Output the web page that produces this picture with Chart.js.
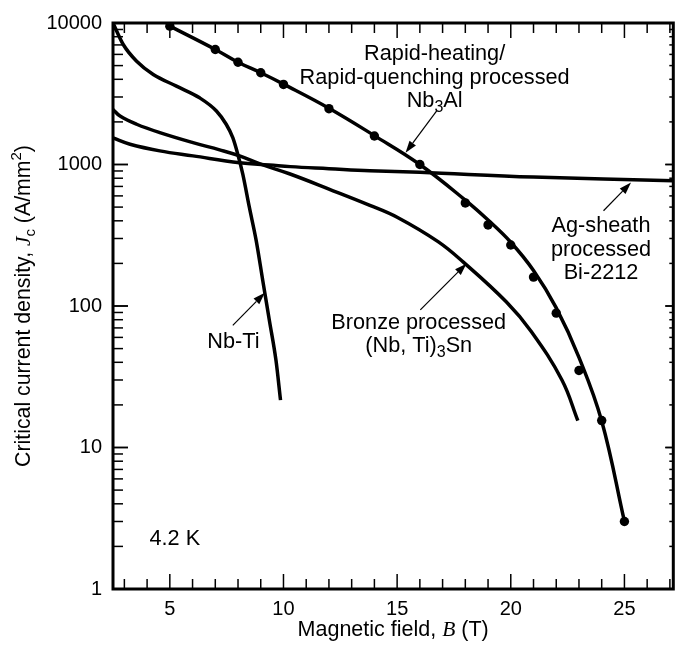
<!DOCTYPE html>
<html>
<head>
<meta charset="utf-8">
<script src="https://cdn.jsdelivr.net/npm/chart.js@4.4.1/dist/chart.umd.min.js"></script>
<style>
  html, body { margin: 0; padding: 0; background: #fff; overflow: hidden; }
</style>
</head>
<body>
<canvas id="jc" width="678" height="646"></canvas>
<script>
// values (B in tesla, Jc in A/mm2)
const xTicks = [5, 10, 15, 20, 25];
const yTicks = [1, 10, 100, 1000, 10000];

// measured points (dots) and the drawn fit through them
const nbalB  = [5, 7, 8, 9, 10, 12, 14, 16, 18, 19, 20, 21, 22, 23, 24, 25];
const nbalJc = [9500, 6500, 5280, 4450, 3680, 2480, 1590, 1000, 535, 374, 270, 160, 89, 35, 15.5, 3.0];
const nbalFitB  = [5, 7, 8, 9, 10, 12, 14, 16, 18, 19, 20, 21, 22, 23, 24, 25];
const nbalFitJc = [9500, 6500, 5280, 4450, 3700, 2500, 1600, 1000, 560, 405, 282, 178, 97, 43.4, 15.4, 3.0];

const nbtiB  = [2.5, 2.95, 3.54, 4.27, 5.29, 6.31, 7.05, 7.48, 7.77, 7.99, 8.21, 8.5, 8.8, 9.09, 9.38, 9.67, 9.87];
const nbtiJc = [10000, 7050, 5370, 4330, 3580, 2960, 2390, 1925, 1548, 1183, 855, 497, 290, 151, 79, 41.3, 21.6];

const bronzeB  = [2.5, 2.81, 3.54, 4.56, 6.02, 7.19, 8.07, 8.94, 10.26, 12.0, 13.8, 15.0, 16.8, 17.9, 19.8, 20.9, 22.25, 22.95];
const bronzeJc = [2450, 2200, 1925, 1680, 1427, 1270, 1151, 1014, 860, 671, 515, 424, 285, 205, 107, 66, 30, 15.5];

const biB  = [2.5, 3.25, 4.56, 6.02, 8.07, 9.38, 10.3, 12.0, 13.8, 16.0, 21.0, 27.15];
const biJc = [1540, 1390, 1248, 1151, 1030, 994, 966, 935, 904, 880, 815, 768];

const pts = (xs, ys) => xs.map((v, i) => ({x: v, y: ys[i]}));

const SANS = '"Liberation Sans", Arial, sans-serif';
const SERIF = '"Liberation Serif", "Times New Roman", serif';

// labels and arrows placed in data coordinates
const notes = [
  {x: 16.65, y: 6000, lines: [[{t: 'Rapid-heating/'}], [{t: 'Rapid-quenching processed'}], [{t: 'Nb'}, {t: '3', sub: true}, {t: 'Al'}]]},
  {x: 23.97, y: 365, lines: [[{t: 'Ag-sheath'}], [{t: 'processed'}], [{t: 'Bi-2212'}]]},
  {x: 15.95, y: 76, lines: [[{t: 'Bronze processed'}], [{t: '(Nb, Ti)'}, {t: '3', sub: true}, {t: 'Sn'}]]},
  {x: 7.8, y: 56, lines: [[{t: 'Nb-Ti'}]]},
  {x: 5.22, y: 2.25, lines: [[{t: '4.2 K'}]]}
];
const arrows = [
  {from: [16.74, 2390], to: [15.37, 1213]},
  {from: [24.08, 471], to: [25.29, 745]},
  {from: [16.02, 94], to: [18.05, 199]},
  {from: [7.77, 73], to: [9.18, 124]}
];

function segFont(s, size) {
  if (s.it) return 'italic ' + size + 'px ' + SERIF;
  if (s.sub || s.sup) return Math.round(size * 0.72) + 'px ' + SANS;
  return size + 'px ' + SANS;
}
function richWidth(ctx, segs, size) {
  let w = 0;
  segs.forEach(s => { ctx.font = segFont(s, size); w += ctx.measureText(s.t).width; });
  return w;
}
function drawRich(ctx, segs, cx, cy, size) {
  let px = cx - richWidth(ctx, segs, size) / 2;
  ctx.textBaseline = 'middle';
  ctx.textAlign = 'left';
  segs.forEach(s => {
    ctx.font = segFont(s, size);
    let dy = 0;
    if (s.sub) dy = size * 0.3;
    if (s.sup) dy = -size * 0.35;
    ctx.fillText(s.t, px, cy + dy);
    px += ctx.measureText(s.t).width;
  });
}

const overlay = {
  id: 'overlay',
  afterDraw(chart) {
    const ctx = chart.ctx;
    const a = chart.chartArea;
    const x = chart.scales.x, y = chart.scales.y;
    const seg = (x1, y1, x2, y2) => { ctx.beginPath(); ctx.moveTo(x1, y1); ctx.lineTo(x2, y2); ctx.stroke(); };
    ctx.save();
    ctx.strokeStyle = '#000';
    ctx.fillStyle = '#000';

    // inward ticks
    ctx.lineWidth = 1.5;
    for (let v = Math.ceil(x.min); v <= x.max; v++) {
      const px = x.getPixelForValue(v);
      const len = v % 5 === 0 ? 15 : 10;
      seg(px, a.bottom, px, a.bottom - len);
      seg(px, a.top, px, a.top + len);
    }
    for (let d = 1; d < 10000; d *= 10) {
      for (let m = 1; m <= 10; m++) {
        const py = y.getPixelForValue(d * m);
        const major = (m === 1 || m === 10);
        seg(a.left, py, a.left + (major ? 15 : 10), py);
        seg(a.right, py, a.right - (major ? 8 : 4), py);
      }
    }
    // frame
    ctx.lineWidth = 3;
    ctx.strokeRect(a.left, a.top, a.right - a.left, a.bottom - a.top);

    // text notes
    notes.forEach(n => {
      const cx = x.getPixelForValue(n.x);
      const cy = y.getPixelForValue(n.y);
      n.lines.forEach((ln, i) => drawRich(ctx, ln, cx, cy + i * 23.5, 21.7));
    });

    // arrows
    ctx.lineWidth = 1.2;
    arrows.forEach(ar => {
      const x1 = x.getPixelForValue(ar.from[0]), y1 = y.getPixelForValue(ar.from[1]);
      const x2 = x.getPixelForValue(ar.to[0]), y2 = y.getPixelForValue(ar.to[1]);
      const ang = Math.atan2(y2 - y1, x2 - x1);
      const hl = 12, hw = 4;
      const bx = x2 - hl * Math.cos(ang), by = y2 - hl * Math.sin(ang);
      seg(x1, y1, bx, by);
      ctx.beginPath();
      ctx.moveTo(x2, y2);
      ctx.lineTo(bx + hw * Math.sin(ang), by - hw * Math.cos(ang));
      ctx.lineTo(bx - hw * Math.sin(ang), by + hw * Math.cos(ang));
      ctx.closePath();
      ctx.fill();
    });

    // axis titles
    drawRich(ctx, [{t: 'Magnetic field, '}, {t: 'B', it: true}, {t: ' (T)'}], (a.left + a.right) / 2, 630, 21.5);
    ctx.translate(24, (a.top + a.bottom) / 2);
    ctx.rotate(-Math.PI / 2);
    drawRich(ctx, [{t: 'Critical current density, '}, {t: 'J', it: true}, {t: 'c', sub: true}, {t: ' (A/mm'}, {t: '2', sup: true}, {t: ')'}], 0, 0, 21.3);
    ctx.restore();
  }
};

const curve = (data, mono) => ({
  data: data,
  showLine: true,
  borderColor: '#000',
  borderWidth: 3.5,
  pointRadius: 0,
  tension: 0.4,
  cubicInterpolationMode: mono ? 'monotone' : 'default',
  fill: false
});

new Chart(document.getElementById('jc'), {
  type: 'scatter',
  data: {
    datasets: [
      curve(pts(nbtiB, nbtiJc), true),
      curve(pts(bronzeB, bronzeJc), false),
      curve(pts(biB, biJc), false),
      curve(pts(nbalFitB, nbalFitJc), false),
      {
        data: pts(nbalB, nbalJc),
        showLine: false,
        pointRadius: 4.7,
        pointBackgroundColor: '#000',
        pointBorderWidth: 0
      }
    ]
  },
  options: {
    responsive: false,
    animation: false,
    events: [],
    layout: { padding: { top: 22, right: 2, left: 0, bottom: 0 } },
    plugins: { legend: { display: false }, tooltip: { enabled: false } },
    scales: {
      x: {
        type: 'linear',
        min: 2.5,
        max: 27.15,
        grid: { display: false, drawTicks: false },
        border: { display: false },
        afterBuildTicks: s => { s.ticks = xTicks.map(v => ({value: v})); },
        afterFit: s => { s.height = 57; },
        ticks: { color: '#000', padding: 8, font: { family: SANS, size: 20 }, maxRotation: 0 }
      },
      y: {
        type: 'logarithmic',
        min: 1,
        max: 10000,
        grid: { display: false, drawTicks: false },
        border: { display: false },
        afterBuildTicks: s => { s.ticks = yTicks.map(v => ({value: v})); },
        afterFit: s => { s.width = 113; },
        ticks: { color: '#000', padding: 11, font: { family: SANS, size: 20 }, callback: v => String(v) }
      }
    }
  },
  plugins: [overlay]
});
</script>
</body>
</html>
